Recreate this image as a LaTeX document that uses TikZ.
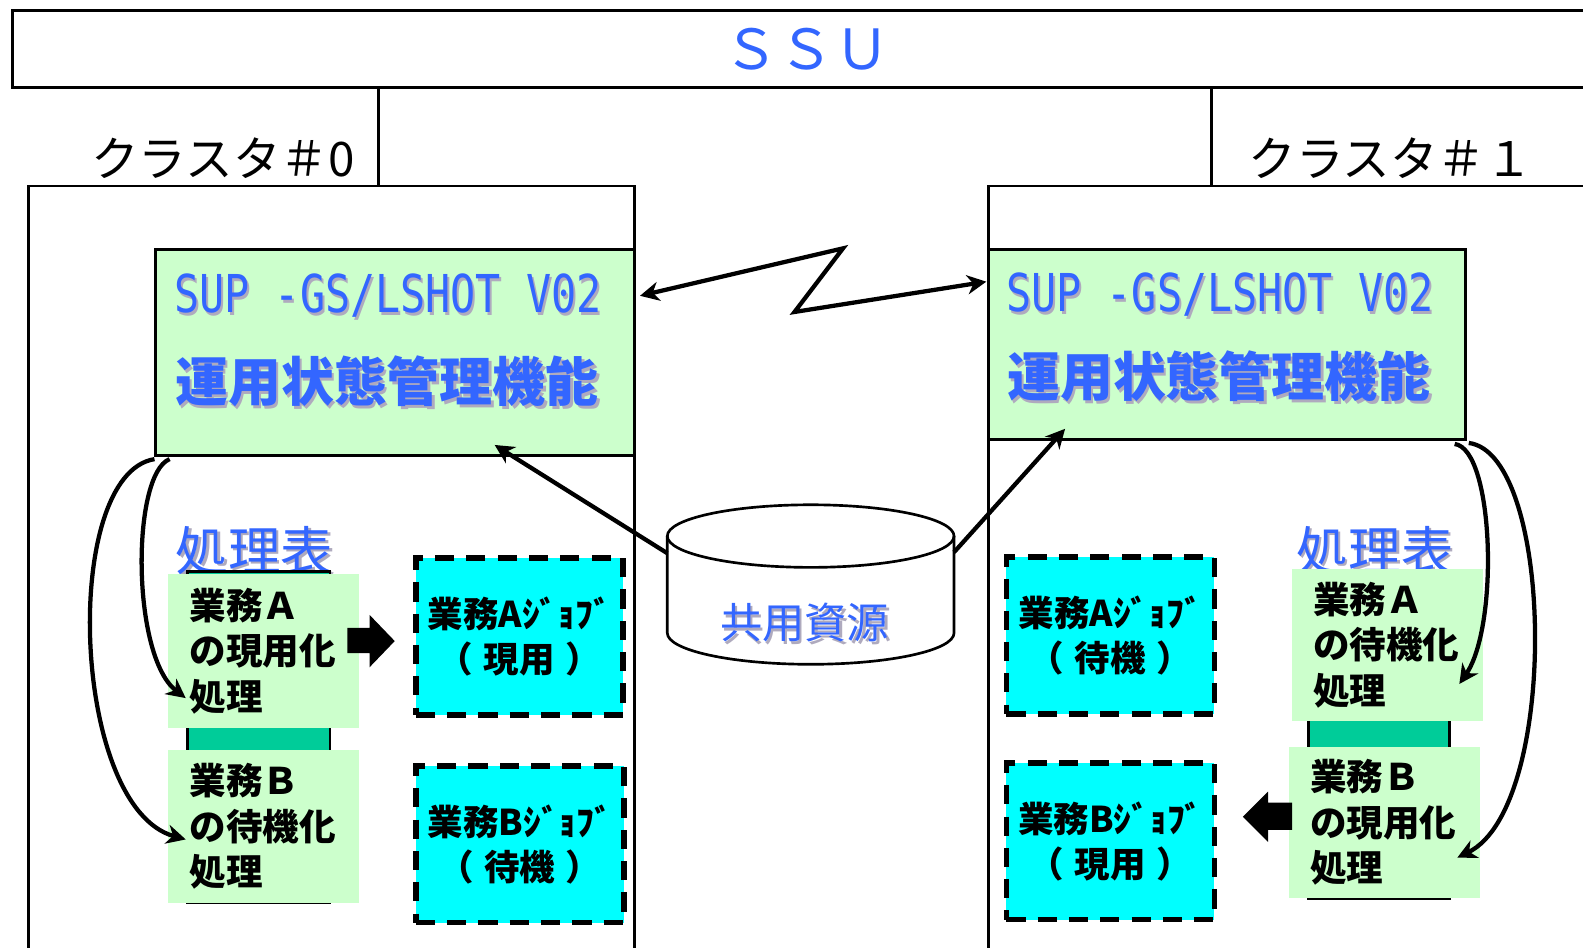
\documentclass[tikz,border=0pt]{standalone}
\usepackage{fontspec}
\usepackage{graphicx}
\setmainfont{Noto Sans CJK JP}
\newfontfamily\supfont{DejaVu Sans Mono}
\usetikzlibrary{arrows.meta,calc,positioning}
\definecolor{ssublue}{RGB}{51,102,255}
\definecolor{mgrgreen}{RGB}{204,255,204}
\definecolor{tblgreen}{RGB}{0,204,153}
\definecolor{jobcyan}{RGB}{0,255,255}
\definecolor{shadowgray}{RGB}{175,170,190}
\newcommand{\shd}[1]{\leavevmode\rlap{\raisebox{-0.7pt}[0pt][0pt]{\hspace{0.7pt}\textcolor{shadowgray}{#1}}}#1}
\newcommand{\paren}[1]{（\hspace{0.3em}#1\hspace{0.3em}）}
\tikzset{
  frame/.style={draw,line width=0.75pt,anchor=north west,inner sep=0pt},
  mgrbox/.style={frame,fill=mgrgreen},
  bluetxt/.style={text=ssublue,inner sep=0pt},
  cltxt/.style={inner sep=0pt,font=\fontsize{13.4pt}{15pt}\selectfont},
  taskbox/.style={fill=mgrgreen,anchor=north west,minimum width=1.89cm,text width=1.47cm,
    inner xsep=0.2cm,inner ysep=0pt,align=left,font=\bfseries\fontsize{10.3pt}{12.8pt}\selectfont},
  jobbox/.style={draw,fill=jobcyan,line width=1.6pt,dash pattern=on 0.19cm off 0.12cm,anchor=north west,
    minimum width=2.05cm,minimum height=1.55cm,align=center,font=\bfseries\fontsize{10pt}{12.8pt}\selectfont},
  ztip/.tip={Stealth[length=0.19cm,width=0.19cm,inset=0.06cm]},
  conn/.style={line width=1.2pt,-ztip}
}
\begin{document}
\begin{tikzpicture}[x=0.01cm,y=-0.01cm]
\useasboundingbox (0,0) rectangle (1568,939);
\clip (0,0) rectangle (1568,939);
\node[frame,minimum width=15.72cm,minimum height=0.76cm,bluetxt,font=\fontsize{15.6pt}{17pt}\selectfont] (ssu) at (11,9) {ＳＳＵ};
\node[frame,minimum width=6cm,minimum height=8cm] (cl0) at (27,183) {};
\node[frame,minimum width=6.2cm,minimum height=8cm] (cl1) at (978,183) {};
\coordinate (stem0) at (375,88);
\coordinate (stem1) at (1200,88);
\draw[line width=0.75pt] (stem0) -- (stem0 |- cl0.north);
\draw[line width=0.75pt] (stem1) -- (stem1 |- cl1.north);
\node[cltxt,anchor=base east] (cl0lbl) at (352,175) {クラスタ＃0};
\node[cltxt,anchor=base west] (cl1lbl) at (1236,175) {クラスタ＃１};

\node[mgrbox,minimum width=4.74cm,minimum height=2.04cm] (mgr0) at (153,246) {};
\node[mgrbox,minimum width=4.72cm,minimum height=1.88cm] (mgr1) at (978,246) {};
\node[bluetxt,anchor=west,font=\supfont\fontsize{14.7pt}{16pt}\selectfont] (mgr0a) at (172,293) {\scalebox{0.8}[1]{\shd{SUP -GS/LSHOT V02}}};
\node[bluetxt,anchor=west,font=\bfseries\fontsize{14.9pt}{16pt}\selectfont] (mgr0b) at (173,378) {\shd{運用状態管理機能}};
\node[bluetxt,anchor=west,font=\supfont\fontsize{14.7pt}{16pt}\selectfont] (mgr1a) at (996,292) {\scalebox{0.8}[1]{\shd{SUP -GS/LSHOT V02}}};
\node[bluetxt,anchor=west,font=\bfseries\fontsize{14.9pt}{16pt}\selectfont] (mgr1b) at (997,373) {\shd{運用状態管理機能}};

\coordinate (zz1) at (835,246);
\coordinate (zz2) at (787,309);
\draw[line width=1.2pt,ztip-ztip] ($(mgr0.north east)+(4,47)$) -- (zz1) -- (zz2) -- ($(mgr1.north west)+(-1,33)$);

\draw[line width=0.75pt,fill=white] (661,531) -- (661,627) arc[start angle=180,end angle=0,x radius=142,y radius=31] -- (945,531);
\draw[line width=0.75pt] (803,531) ellipse[x radius=142,y radius=31];
\coordinate (dbl) at (661,548);
\coordinate (dbr) at (945,547);
\node[bluetxt,font=\fontsize{11.9pt}{13pt}\selectfont] (db) at (797,617) {\shd{共用資源}};
\draw[conn] (dbl) -- ($(mgr0.south west)+(337,-12)$);
\draw[conn] (dbr) -- ($(mgr1.south west)+(77,-12)$);

\node[bluetxt,font=\fontsize{14.8pt}{16pt}\selectfont] (tbl0) at (252,545) {\shd{処理表}};
\draw[line width=0.75pt,fill=tblgreen] (186,566) rectangle (327,894);
\node[taskbox,minimum height=1.52cm] (ta0) at (166,568) {業務Ａ\\の現用化\\処理};
\node[taskbox,minimum height=1.52cm] (tb0) at (166,742) {業務Ｂ\\の待機化\\処理};

\node[bluetxt,font=\fontsize{14.8pt}{16pt}\selectfont] (tbl1) at (1362,545) {\shd{処理表}};
\draw[line width=0.75pt,fill=tblgreen] (1296,575) rectangle (1436,890);
\node[taskbox,minimum height=1.5cm] (ta1) at (1279,563) {業務Ａ\\の待機化\\処理};
\node[taskbox,minimum height=1.5cm] (tb1) at (1276,739) {業務Ｂ\\の現用化\\処理};

\node[jobbox] (job0a) at (409,550) {業務Aｼﾞｮﾌﾞ\\\paren{現用}};
\node[jobbox] (job0b) at (409,756) {業務Bｼﾞｮﾌﾞ\\\paren{待機}};
\node[jobbox,minimum width=2.06cm] (job1a) at (994,549) {業務Aｼﾞｮﾌﾞ\\\paren{待機}};
\node[jobbox,minimum width=2.06cm] (job1b) at (994,753) {業務Bｼﾞｮﾌﾞ\\\paren{現用}};

\fill (344,622) -- (366,622) -- (366,609) -- (391,635) -- (366,661) -- (366,647) -- (344,647) -- cycle;
\fill (1280,795) -- (1256,795) -- (1256,784) -- (1231,809) -- (1256,834) -- (1256,822) -- (1280,822) -- cycle;

\draw[conn] ($(mgr0.south west)+(15,2)$) .. controls (130,470) and (130,650) .. ($(ta0.south west)+(18,-30)$);
\draw[conn] ($(mgr0.south west)+(0,2)$) .. controls (60,470) and (70,800) .. ($(tb0.south west)+(18,-64)$);
\draw[conn] ($(mgr1.south east)+(-12,3)$) .. controls (1480,445) and (1485,620) .. ($(ta1.south east)+(-24,-37)$);
\draw[conn] ($(mgr1.south east)+(2,2)$) .. controls (1540,450) and (1545,800) .. ($(tb1.south east)+(-23,-41)$);
\end{tikzpicture}
\end{document}
